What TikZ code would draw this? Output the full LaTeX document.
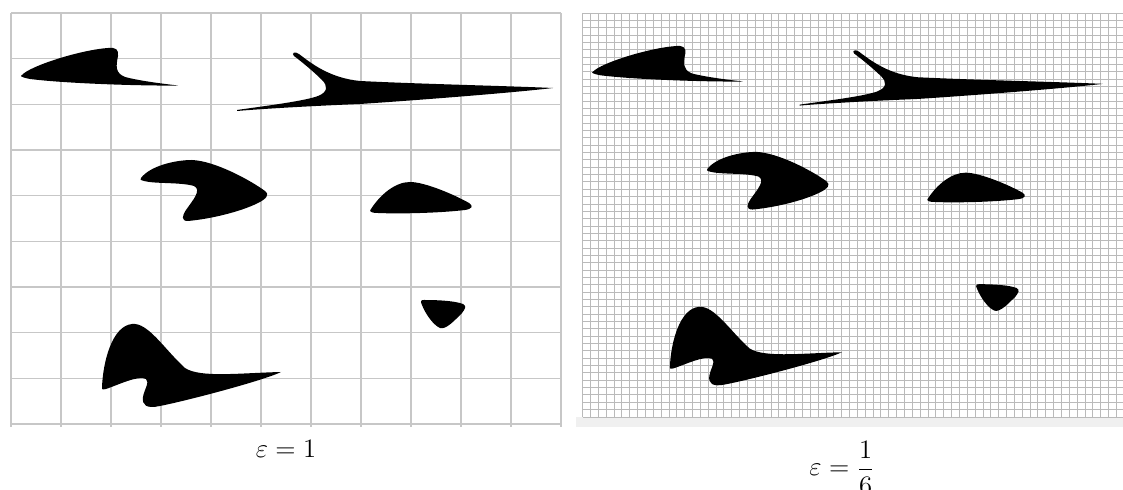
\RequirePackage{fix-cm}
\documentclass[tikz,border=0pt]{standalone}
\usepackage{amsmath}
\usepackage{tikz}

% the six shapes, in the coordinates of the coarse panel
\newcommand{\shapeset}{%
  \fill[blob] (22,75) .. controls (30,66) and (80,50) .. (108,48)
    .. controls (116,47) and (119,50) .. (118,56)
    .. controls (116,66) and (115,73) .. (125,77)
    .. controls (140,81) and (165,84) .. (178,85.5)
    .. controls (150,86) and (70,84) .. (30,79)
    .. controls (20,77) and (20,76) .. (22,75) -- cycle;
  \fill[blob] (237,110) .. controls (265,106) and (305,101) .. (318,96)
    .. controls (328,92) and (328,86) .. (322,80)
    .. controls (314,72) and (302,62) .. (294,56)
    .. controls (291,53) and (295,51) .. (299,54)
    .. controls (312,64) and (330,78) .. (360,81)
    .. controls (420,84) and (510,86) .. (553,88)
    .. controls (510,93) and (420,100) .. (360,104)
    .. controls (310,106) and (260,109) .. (237,111) -- cycle;
  \fill[blob] (141,178) .. controls (150,166) and (175,160) .. (192,160)
    .. controls (215,161) and (250,180) .. (265,191)
    .. controls (270,195) and (266,199) .. (258,203)
    .. controls (240,212) and (210,219) .. (188,221)
    .. controls (181,221) and (182,216) .. (186,210)
    .. controls (193,200) and (202,190) .. (194,186)
    .. controls (180,182) and (155,184) .. (144,181)
    .. controls (140,180) and (140,179) .. (141,178) -- cycle;
  \fill[blob] (371,209) .. controls (380,195) and (395,182) .. (410,182)
    .. controls (425,182) and (455,195) .. (469,203)
    .. controls (474,206) and (472,209) .. (465,210)
    .. controls (440,213) and (400,214) .. (378,213)
    .. controls (370,213) and (369,211) .. (371,209) -- cycle;
  \fill[blob] (424,300) .. controls (440,300) and (455,301) .. (463,304)
    .. controls (467,306) and (465,309) .. (462,313)
    .. controls (455,320) and (446,330) .. (440,328)
    .. controls (433,325) and (425,313) .. (422,305)
    .. controls (420,301) and (421,300) .. (424,300) -- cycle;
  \fill[blob] (102,387) .. controls (103,362) and (112,326) .. (132,324)
    .. controls (148,322) and (165,350) .. (185,368)
    .. controls (200,378) and (240,373) .. (281,372)
    .. controls (265,380) and (190,400) .. (160,406)
    .. controls (146,409) and (142,405) .. (143,397)
    .. controls (144,390) and (150,382) .. (146,379)
    .. controls (138,375) and (118,385) .. (106,389)
    .. controls (102,390) and (101,389) .. (102,387) -- cycle;
}

\begin{document}
\begin{tikzpicture}[
    x=0.5pt, y=-0.5pt,
    font=\fontsize{13.3}{16}\selectfont,
    blob/.style={fill=black},
    coarse/.style={draw=black!22, line width=0.65pt},
    fine/.style={draw=black!27, line width=0.45pt},
    band/.style={fill=black!6}
]
\useasboundingbox (0,0) rectangle (1123,490);
% coarse grid
\foreach \i in {0,...,11}{\draw[coarse] (11+50*\i,13) -- (11+50*\i,427);}
\foreach \j in {0,...,9}{\draw[coarse] (11,13+45.67*\j) -- (561,13+45.67*\j);}
% fine grid
\fill[band] (576,417) rectangle (1123,427);
\foreach \i in {0,...,68}{\draw[fine] (582.6+7.85*\i,13) -- (582.6+7.85*\i,417);}
\foreach \j in {0,...,55}{\draw[fine] (582.6,13+7.345*\j) -- (1123,13+7.345*\j);}
% shapes
\shapeset
\begin{scope}[shift={(572,0.7)}, xscale=0.96, yscale=0.945]
\shapeset
\end{scope}
% captions
\node[anchor=base] (epsA) at (286,458) {$\varepsilon = 1$};
\node[anchor=base] (epsB) at (842,476) {$\varepsilon = \dfrac{1}{6}$};
\end{tikzpicture}
\end{document}
